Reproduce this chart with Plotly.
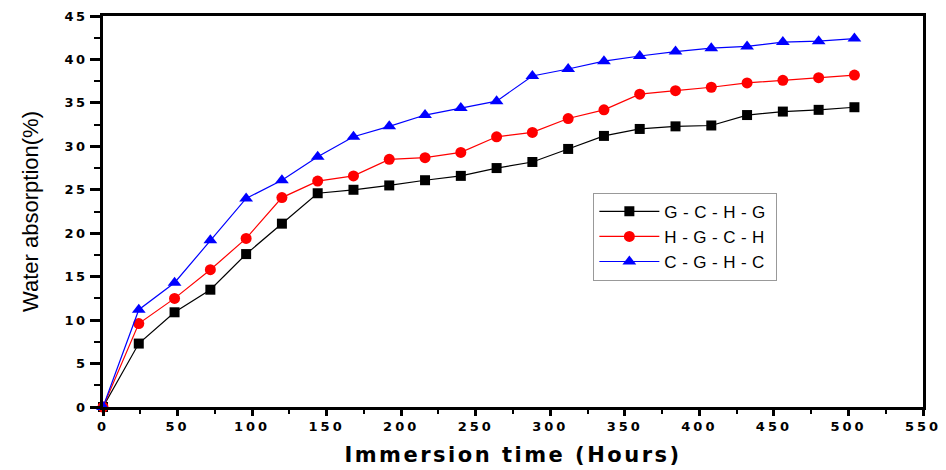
import plotly.graph_objects as go

hours = [0, 24, 48, 72, 96, 120, 144, 168, 192, 216, 240, 264, 288, 312, 336,
         360, 384, 408, 432, 456, 480, 504]

gchg = [0, 7.3, 10.9, 13.5, 17.6, 21.1, 24.6, 25.0, 25.5, 26.1, 26.6, 27.5,
        28.2, 29.7, 31.2, 32.0, 32.3, 32.4, 33.6, 34.0, 34.2, 34.5]
hgch = [0, 9.6, 12.5, 15.8, 19.4, 24.1, 26.0, 26.6, 28.5, 28.7, 29.3, 31.1,
        31.6, 33.2, 34.2, 36.0, 36.4, 36.8, 37.3, 37.6, 37.9, 38.2]
cghc = [0, 11.2, 14.3, 19.2, 24.0, 26.1, 28.8, 31.1, 32.3, 33.6, 34.4, 35.2,
        38.1, 38.9, 39.8, 40.4, 40.9, 41.3, 41.5, 42.0, 42.1, 42.4]

x_ticks = [0, 50, 100, 150, 200, 250, 300, 350, 400, 450, 500, 550]
y_ticks = [0, 5, 10, 15, 20, 25, 30, 35, 40, 45]

series = [
    ("G-C-H-G", gchg, "black", "square", 10),
    ("H-G-C-H", hgch, "#ff0000", "circle", 11),
    ("C-G-H-C", cghc, "#0000ff", "triangle-up", 12),
]


def spaced(text, px):
    return f'<span style="letter-spacing:{px}px">{text}</span>'


fig = go.Figure()
for name, vals, color, sym, size in series:
    fig.add_trace(go.Scatter(
        x=hours, y=vals, name=spaced(name, 5.5), mode="lines+markers",
        line=dict(color=color, width=1.2),
        marker=dict(symbol=sym, size=size, color=color),
        cliponaxis=False,
    ))

tick_font = dict(family="DejaVu Sans", size=13, color="black", weight="bold")

fig.update_layout(
    width=946, height=470,
    margin=dict(l=103, r=23, t=16, b=63),
    paper_bgcolor="white", plot_bgcolor="white",
    showlegend=True,
    legend=dict(
        x=0.598, y=0.548, xanchor="left", yanchor="top",
        bgcolor="white", bordercolor="#999999", borderwidth=1,
        font=dict(family="Liberation Sans, Arial", size=17, color="black"),
        tracegroupgap=0, itemwidth=60,
    ),
    xaxis=dict(
        range=[0, 550], tickmode="array", tickvals=x_ticks,
        ticktext=[spaced(v, 3) for v in x_ticks],
        showgrid=False, zeroline=False, automargin=False,
        showline=True, linecolor="black", linewidth=2.5, mirror=True,
        ticks="outside", ticklen=6, tickwidth=2.5, tickcolor="black",
        minor=dict(dtick=25, ticks="outside", ticklen=4, tickwidth=2, tickcolor="black"),
        tickfont=tick_font,
        title=dict(text=spaced("Immersion time (Hours)", 2.5), standoff=14,
                   font=dict(family="DejaVu Sans", size=21, color="black", weight="bold")),
    ),
    yaxis=dict(
        range=[0, 45], tickmode="array", tickvals=y_ticks,
        ticktext=[spaced(v, 2.5) for v in y_ticks],
        showgrid=False, zeroline=False, automargin=False,
        showline=True, linecolor="black", linewidth=2.5, mirror=True,
        ticks="outside", ticklen=10, tickwidth=2.5, tickcolor="black",
        minor=dict(dtick=2.5, ticks="outside", ticklen=6, tickwidth=2, tickcolor="black"),
        tickfont=tick_font,
        title=dict(text="Water absorption(%)", standoff=20,
                   font=dict(family="Liberation Sans, Arial", size=22, color="black")),
    ),
)

fig.write_html("out.html")
